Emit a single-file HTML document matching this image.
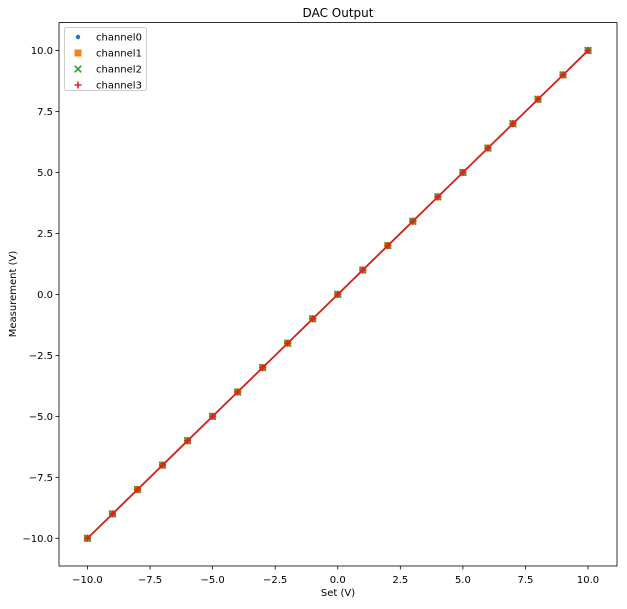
<!DOCTYPE html>
<html><head><meta charset="utf-8"><style>
body{margin:0;background:#fff;font-family:"Liberation Sans","DejaVu Sans",sans-serif;}
svg text{font-family:"DejaVu Sans","Liberation Sans",sans-serif;fill:#000}
</style></head><body>
<svg id="c" width="627" height="604"></svg>
<script>
const setValues=[-10,-9,-8,-7,-6,-5,-4,-3,-2,-1,0,1,2,3,4,5,6,7,8,9,10];
const channel0=[-10,-9,-8,-7,-6,-5,-4,-3,-2,-1,0,1,2,3,4,5,6,7,8,9,10];
const channel1=[-10,-9,-8,-7,-6,-5,-4,-3,-2,-1,0,1,2,3,4,5,6,7,8,9,10];
const channel2=[-10,-9,-8,-7,-6,-5,-4,-3,-2,-1,0,1,2,3,4,5,6,7,8,9,10];
const channel3=[-10,-9,-8,-7,-6,-5,-4,-3,-2,-1,0,1,2,3,4,5,6,7,8,9,10];
const xTicks=[-10,-7.5,-5,-2.5,0,2.5,5,7.5,10];
const yTicks=[-10,-7.5,-5,-2.5,0,2.5,5,7.5,10];
const NS="http://www.w3.org/2000/svg";
const svg=document.getElementById('c');
const L=59,R=617,T=22.6,B=566;
const X=v=>337.75+v*25.03;
const Y=v=>294.4-v*24.39;
function el(t,a,p){const e=document.createElementNS(NS,t);for(const k in a)e.setAttribute(k,a[k]);(p||svg).appendChild(e);return e;}
function fmt(v){return (v<0?'\u2212':'')+Math.abs(v).toFixed(1);}
const title=el('text',{x:338,y:17,'text-anchor':'middle','font-size':12});title.textContent='DAC Output';


xTicks.forEach(v=>{const g=el('g',{});


el('line',{x1:X(v),x2:X(v),y1:B,y2:B+3.5,stroke:'#000','stroke-width':0.8},g);
const t=el('text',{x:X(v),y:B+17,'text-anchor':'middle','font-size':10},g);t.textContent=fmt(v);});
yTicks.forEach(v=>{const g=el('g',{});


el('line',{x1:L-3.5,x2:L,y1:Y(v),y2:Y(v),stroke:'#000','stroke-width':0.8},g);
const t=el('text',{x:L-6,y:Y(v)+3.5,'text-anchor':'end','font-size':10},g);t.textContent=fmt(v);});
const xl=el('text',{x:338,y:596,'text-anchor':'middle','font-size':10});xl.textContent='Set (V)';


const yl=el('text',{x:16,y:294,'text-anchor':'middle','font-size':10,transform:'rotate(-90 16 294)'});yl.textContent='Measurement (V)';


const series=[[channel0,'#1f77b4','dot','channel0','#1f77b4'],[channel1,'#ff7f0e','sq','channel1','#ff7f0e'],[channel2,'#2ca02c','x','channel2','#2ca02c'],[channel3,'#d62728','+','channel3','#e41a1c']];
function marker(kind,c,x,y,p){
 if(kind==='dot')el('circle',{cx:x,cy:y,r:2.2,fill:c},p);
 else if(kind==='sq')el('rect',{x:x-3.5,y:y-3.5,width:7,height:7,fill:c},p);
 else if(kind==='x'){el('path',{d:`M${x-3.3} ${y-3.3}L${x+3.3} ${y+3.3}M${x-3.3} ${y+3.3}L${x+3.3} ${y-3.3}`,stroke:c,'stroke-width':1.6},p);}
 else el('path',{d:`M${x-3.5} ${y}H${x+3.5}M${x} ${y-3.5}V${y+3.5}`,stroke:c,'stroke-width':1.6},p);
}
series.forEach(([d,c,k,n,lc])=>{const g=el('g',{});


el('polyline',{points:setValues.map((s,i)=>X(s)+','+Y(d[i])).join(' '),fill:'none',stroke:lc,'stroke-width':1.6},g);
setValues.forEach((s,i)=>marker(k,c,X(s),Y(d[i]),g));});
const fr=el('rect',{x:L,y:T,width:R-L,height:B-T,fill:'none',stroke:'#000','stroke-width':0.8});


const lg=el('g',{});


el('rect',{x:64.5,y:27.5,width:82,height:63,rx:2,fill:'#fff','fill-opacity':0.8,stroke:'#ccc'},lg);
series.forEach(([d,c,k,n],i)=>{const g=el('g',{},lg);


const y=37+i*16;marker(k,c,78,y,g);
const t=el('text',{x:96,y:y+3.5,'font-size':10},g);t.textContent=n;});
</script>
</body></html>
